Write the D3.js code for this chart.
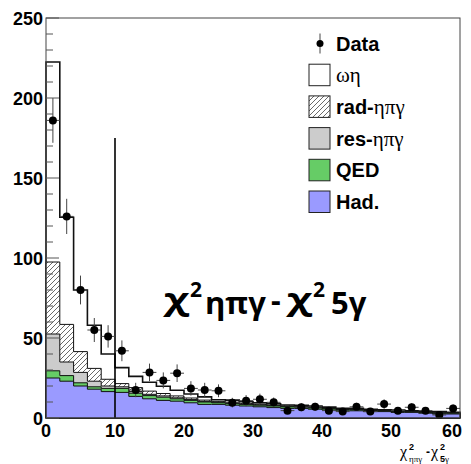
<!DOCTYPE html>
<html>
<head>
<meta charset="utf-8">
<script src="https://cdn.jsdelivr.net/npm/d3@7"></script>
<style>
  html, body { margin: 0; padding: 0; background: #fff; }
  svg { display: block; }
</style>
</head>
<body>
<div id="chart"></div>
<script>
// bin edges: 0..60 in steps of 2
const binWidth = 2;
const binStarts = d3.range(0, 60, binWidth);

// stacked components, bottom to top
const had = [25, 23, 20, 18, 16.5, 16, 13.5, 12, 11, 10.5, 9.5, 8.5, 8.5, 8, 7.5, 7, 6.5, 6, 6, 5.5, 5, 4.5, 4.5, 4, 4, 3.5, 3.5, 3, 2.5, 2.5];
const qed = [4.5, 3.5, 2, 1.5, 2, 2.5, 2, 2, 2, 1.5, 1.5, 1.5, 1, 1, 1, 1, 1, 1, 0.8, 0.8, 0.8, 0.8, 0.7, 0.7, 0.6, 0.6, 0.5, 0.5, 0.5, 0.5];
const resEtaPiG = [23, 8.5, 6.5, 3.5, 1.5, 1, 1, 0.8, 0.8, 0.6, 0.5, 0.4, 0.3, 0.3, 0.3, 0.2, 0.2, 0.2, 0.2, 0.2, 0.1, 0.1, 0.1, 0.1, 0.1, 0.1, 0.1, 0.1, 0.1, 0.1];
const radEtaPiG = [45, 23.5, 13, 8, 4.2, 2, 2.5, 2, 1.5, 1.2, 1, 0.8, 0.6, 0.6, 0.5, 0.5, 0.4, 0.4, 0.3, 0.3, 0.3, 0.2, 0.2, 0.2, 0.2, 0.2, 0.2, 0.2, 0.2, 0.2];
const omegaEta = [125, 67, 38.5, 27, 15.8, 10, 7, 5.5, 4.5, 3.5, 2.5, 2, 1, 1.3, 1, 0.8, 0.8, 0.5, 0.7, 0.6, 0.6, 0.5, 0.5, 0.4, 0.2, 0.6, 0.2, 0.2, 0.7, 0.2];

// data points and their errors
const dataVals = [186, 126, 80, 55, 51, 42, 17.5, 28.5, 23.5, 28, 18.5, 17.5, 17, 9.6, 10.8, 11.7, 9.8, 4.6, 6.7, 7, 4.6, 4, 7, 4, 8.7, 4.6, 6.7, 4.6, 1.9, 6];
const dataErrs = [14, 11, 9, 7.5, 7, 6.5, 4.5, 5.5, 5, 5.5, 4.5, 4.5, 4, 3, 3.5, 3.5, 3, 2, 2.5, 2.5, 2, 2, 2.5, 2, 3, 2, 2.5, 2, 1.5, 2.5];

const yTicks = [0, 50, 100, 150, 200, 250];
const xTicks = [0, 10, 20, 30, 40, 50, 60];
const cutValue = 10;
const cutHeight = 175;

const width = 471, height = 464;
const x = d3.scaleLinear().domain([0, 60]).range([46, 460]);
const y = d3.scaleLinear().domain([0, 250]).range([418, 18]);

const svg = d3.select("#chart").append("svg")
    .attr("width", width)
    .attr("height", height);

// hatch pattern for rad-etapigamma
const defs = svg.append("defs");
defs.append("pattern")
    .attr("id", "hatch")
    .attr("patternUnits", "userSpaceOnUse")
    .attr("width", 5).attr("height", 5)
    .call(p => {
        p.append("rect").attr("width", 5).attr("height", 5).attr("fill", "#fff");
        p.append("path").attr("d", "M-1,1 L1,-1 M0,5 L5,0 M4,6 L6,4")
            .attr("stroke", "#444").attr("stroke-width", 0.8);
    });

// cumulative stacks
const layers = [
    {vals: had, fill: "#9a9aff"},
    {vals: qed, fill: "#66cc66"},
    {vals: resEtaPiG, fill: "#cccccc"},
    {vals: radEtaPiG, fill: "url(#hatch)"},
    {vals: omegaEta, fill: "#ffffff"}
];
let running = binStarts.map(() => 0);
layers.forEach(l => {
    running = running.map((v, i) => v + l.vals[i]);
    l.cum = running.slice();
});

function stepPath(cum) {
    const p = d3.path();
    p.moveTo(x(0), y(0));
    cum.forEach((v, i) => {
        p.lineTo(x(binStarts[i]), y(v));
        p.lineTo(x(binStarts[i] + binWidth), y(v));
    });
    p.lineTo(x(60), y(0));
    p.closePath();
    return p.toString();
}

// draw from the total down to the bottom layer
layers.slice().reverse().forEach((l, k) => {
    svg.append("path")
        .attr("d", stepPath(l.cum))
        .attr("fill", l.fill)
        .attr("stroke", "#111")
        .attr("stroke-width", k === 0 ? 1.6 : 1);
});

// cut line
svg.append("line")
    .attr("x1", x(cutValue)).attr("x2", x(cutValue))
    .attr("y1", y(0)).attr("y2", y(cutHeight))
    .attr("stroke", "#000").attr("stroke-width", 1.6);

// data with errors
const pts = svg.append("g");
dataVals.forEach((v, i) => {
    const cx = x(binStarts[i] + binWidth / 2);
    pts.append("line")
        .attr("x1", cx).attr("x2", cx)
        .attr("y1", y(v - dataErrs[i])).attr("y2", y(v + dataErrs[i]))
        .attr("stroke", "#444").attr("stroke-width", 1);
    pts.append("line")
        .attr("x1", x(binStarts[i])).attr("x2", x(binStarts[i] + binWidth))
        .attr("y1", y(v)).attr("y2", y(v))
        .attr("stroke", "#444").attr("stroke-width", 1);
    pts.append("circle")
        .attr("cx", cx).attr("cy", y(v)).attr("r", 4)
        .attr("fill", "#000");
});

// frame
svg.append("rect")
    .attr("x", x(0)).attr("y", y(250))
    .attr("width", x(60) - x(0)).attr("height", y(0) - y(250))
    .attr("fill", "none").attr("stroke", "#444").attr("stroke-width", 1);

// y ticks (inside)
d3.range(0, 251, 10).forEach(t => {
    const major = t % 50 === 0;
    svg.append("line")
        .attr("x1", x(0)).attr("x2", x(0) + (major ? 13 : 7))
        .attr("y1", y(t)).attr("y2", y(t))
        .attr("stroke", "#555").attr("stroke-width", 1);
});

const labelFont = "'Liberation Sans', Arial, Helvetica, sans-serif";
svg.append("g").selectAll("text")
    .data(yTicks).join("text")
    .attr("x", 43).attr("y", d => y(d) + 6.5)
    .attr("text-anchor", "end")
    .attr("font-family", labelFont).attr("font-weight", "bold")
    .attr("font-size", 18).attr("fill", "#000")
    .text(d => d);

svg.append("g").selectAll("text")
    .data(xTicks).join("text")
    .attr("x", d => d === 60 ? 462 : x(d))
    .attr("y", 437)
    .attr("text-anchor", d => d === 60 ? "end" : "middle")
    .attr("font-family", labelFont).attr("font-weight", "bold")
    .attr("font-size", 18).attr("fill", "#000")
    .text(d => d);

// axis title
const serif = "'Liberation Serif', 'Times New Roman', serif";
const at = svg.append("g").attr("fill", "#000");
at.append("text").attr("x", 400).attr("y", 457).attr("font-family", serif).attr("font-size", 16).text("χ");
at.append("text").attr("x", 409).attr("y", 450).attr("font-family", labelFont).attr("font-weight", "bold").attr("font-size", 9).text("2");
at.append("text").attr("x", 409).attr("y", 462).attr("font-family", serif).attr("font-size", 9).text("ηπγ");
at.append("text").attr("x", 426).attr("y", 456).attr("font-family", labelFont).attr("font-weight", "bold").attr("font-size", 12).text("-");
at.append("text").attr("x", 431).attr("y", 457).attr("font-family", serif).attr("font-size", 16).text("χ");
at.append("text").attr("x", 440).attr("y", 450).attr("font-family", labelFont).attr("font-weight", "bold").attr("font-size", 9).text("2");
at.append("text").attr("x", 440).attr("y", 462).attr("font-family", labelFont).attr("font-weight", "bold").attr("font-size", 9).text("5")
  .append("tspan").attr("font-family", serif).attr("font-weight", "normal").attr("font-size", 9).text("γ");

// big annotation
const bigFont = "'Open Sans', 'Noto Sans', sans-serif";
const ann = svg.append("g").attr("font-family", bigFont).attr("font-weight", "bold").attr("fill", "#000");
ann.append("text").attr("transform", "translate(164,310) scale(1.4,1)").attr("font-size", 30).text("χ");
ann.append("text").attr("x", 190).attr("y", 297).attr("font-size", 21).text("2");
ann.append("text").attr("x", 205).attr("y", 314).attr("font-size", 31).text("ηπγ");
ann.append("text").attr("x", 271).attr("y", 311).attr("font-size", 30).text("-");
ann.append("text").attr("transform", "translate(287,310) scale(1.4,1)").attr("font-size", 30).text("χ");
ann.append("text").attr("x", 313).attr("y", 297).attr("font-size", 21).text("2");
ann.append("text").attr("x", 331).attr("y", 314).attr("font-size", 31).text("5γ");

// legend
const legendItems = [
    {type: "data", parts: [["Data", true]]},
    {type: "box", fill: "#ffffff", parts: [["ωη", false]]},
    {type: "box", fill: "url(#hatch)", parts: [["rad-", true], ["ηπγ", false]]},
    {type: "box", fill: "#cccccc", parts: [["res-", true], ["ηπγ", false]]},
    {type: "box", fill: "#66cc66", parts: [["QED", true]]},
    {type: "box", fill: "#9a9aff", parts: [["Had.", true]]}
];
const lg = svg.append("g");
legendItems.forEach((it, i) => {
    const cy = 43.5 + i * 31.7;
    if (it.type === "data") {
        lg.append("line").attr("x1", 320).attr("x2", 320).attr("y1", cy - 10).attr("y2", cy + 10)
            .attr("stroke", "#444").attr("stroke-width", 1);
        lg.append("circle").attr("cx", 320).attr("cy", cy).attr("r", 3.5).attr("fill", "#000");
    } else {
        lg.append("rect").attr("x", 309).attr("y", cy - 11).attr("width", 21).attr("height", 21.5)
            .attr("fill", it.fill).attr("stroke", "#222").attr("stroke-width", 1);
    }
    const t = lg.append("text").attr("x", 336).attr("y", cy + 7).attr("fill", "#000");
    it.parts.forEach(([s, bold]) => {
        t.append("tspan")
            .attr("font-family", bold ? labelFont : serif)
            .attr("font-weight", bold ? "bold" : "normal")
            .attr("font-size", bold ? 20 : 21)
            .text(s);
    });
});
</script>
</body>
</html>
